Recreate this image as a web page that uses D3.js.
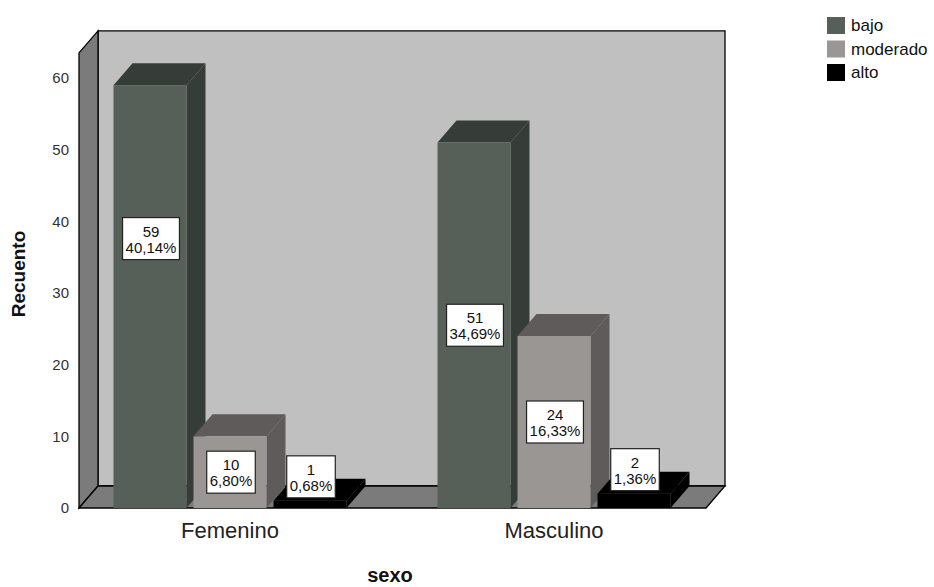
<!DOCTYPE html>
<html>
<head>
<meta charset="utf-8">
<script src="https://cdn.jsdelivr.net/npm/d3@7"></script>
<style>
  html, body { margin: 0; padding: 0; background: #fff; }
  svg { display: block; }
  text { font-family: "Liberation Sans", Arial, sans-serif; }
</style>
</head>
<body>
<svg id="chart" width="934" height="587"></svg>
<script>
// Counts per sex and risk level
const categories = ["Femenino", "Masculino"];
const levels = ["bajo", "moderado", "alto"];
const bajo = [59, 51];
const moderado = [10, 24];
const alto = [1, 2];
const yTicks = [0, 10, 20, 30, 40, 50, 60];
const levelColors = ["#566059", "#9a9694", "#000000"];
const levelSideColors = ["#363c38", "#5e5b5a", "#000000"];

const seriesValues = { bajo, moderado, alto };
const total = d3.sum(levels.flatMap(l => seriesValues[l]));

const svg = d3.select("#chart");

// 3D depth offset of the box
const DX = 19, DY = -22;

const y = d3.scaleLinear().domain([0, 60]).range([508, 78]);
const yTop = 63.5;
const xLeft = 79, xRight = 706;

const x = d3.scaleBand().domain(categories).range([68, 716]).paddingInner(0).paddingOuter(0);
const xInner = d3.scaleBand().domain(levels).range([0, 233]).paddingInner(0.0875).paddingOuter(0);

const poly = pts => "M" + pts.map(p => p.join(",")).join("L") + "Z";

// Back wall
svg.append("path")
  .attr("d", poly([[xLeft + DX, y(yTop) + DY], [xRight + DX, y(yTop) + DY], [xRight + DX, y(0) + DY], [xLeft + DX, y(0) + DY]]))
  .attr("fill", "#c0c0c0").attr("stroke", "#000").attr("stroke-width", 1.3);

// Left wall
svg.append("path")
  .attr("d", poly([[xLeft, y(yTop)], [xLeft + DX, y(yTop) + DY], [xLeft + DX, y(0) + DY], [xLeft, y(0)]]))
  .attr("fill", "#7b7b7b").attr("stroke", "#000").attr("stroke-width", 1.3);

// Floor
svg.append("path")
  .attr("d", poly([[xLeft, y(0)], [xLeft + DX, y(0) + DY], [xRight + DX, y(0) + DY], [xRight, y(0)]]))
  .attr("fill", "#7b7b7b").attr("stroke", "#000").attr("stroke-width", 1.3);

// Y axis tick labels
svg.append("g").selectAll("text").data(yTicks).join("text")
  .attr("x", 69).attr("y", d => y(d)).attr("dy", "0.36em")
  .attr("text-anchor", "end").attr("font-size", 15).attr("fill", "#333")
  .text(d => d);

// Bars
const bars = [];
categories.forEach((c, ci) => {
  levels.forEach((l, li) => {
    bars.push({ cat: c, level: l, li, value: seriesValues[l][ci] });
  });
});

const barG = svg.append("g");
bars.forEach(b => {
  const x0 = x(b.cat) + x.bandwidth() / 2 - 116.5 + xInner(b.level);
  const w = xInner.bandwidth();
  const yT = y(b.value), yB = y(0);
  const g = barG.append("g");
  // side face
  g.append("path")
    .attr("d", poly([[x0 + w, yT], [x0 + w + DX, yT + DY], [x0 + w + DX, yB + DY], [x0 + w, yB]]))
    .attr("fill", levelSideColors[b.li]);
  // top face
  g.append("path")
    .attr("d", poly([[x0, yT], [x0 + DX, yT + DY], [x0 + w + DX, yT + DY], [x0 + w, yT]]))
    .attr("fill", levelSideColors[b.li]);
  // front face
  g.append("rect")
    .attr("x", x0).attr("y", yT).attr("width", w).attr("height", yB - yT)
    .attr("fill", levelColors[b.li]);
  b.x0 = x0; b.w = w; b.yT = yT; b.yB = yB;
});

// Value labels: count and percentage of total
const fmtPct = v => d3.format(".2f")(v * 100).replace(".", ",") + "%";
const labelNudge = { "Femenino-bajo": -58 };
const labG = svg.append("g");
bars.forEach(b => {
  const boxH = 42;
  let cy = (b.yT + b.yB) / 2;
  if (b.yB - b.yT < boxH + 20) cy = b.yT - 24;
  cy += labelNudge[b.cat + "-" + b.level] || 0;
  const cx = b.x0 + b.w / 2 + 1;
  const g = labG.append("g");
  const t1 = g.append("text").attr("x", cx).attr("y", cy - 2).attr("text-anchor", "middle")
    .attr("font-size", 15).attr("fill", "#111").text(b.value);
  const t2 = g.append("text").attr("x", cx).attr("y", cy + 14).attr("text-anchor", "middle")
    .attr("font-size", 15).attr("fill", "#111").text(fmtPct(b.value / total));
  const wText = Math.max(t1.node().getComputedTextLength(), t2.node().getComputedTextLength());
  g.insert("rect", "text")
    .attr("x", cx - wText / 2 - 3).attr("y", cy - boxH / 2)
    .attr("width", wText + 6).attr("height", boxH)
    .attr("fill", "#fff").attr("stroke", "#222").attr("stroke-width", 1.2);
});

// Category labels
svg.append("g").selectAll("text").data(categories).join("text")
  .attr("x", d => x(d) + x.bandwidth() / 2).attr("y", 538)
  .attr("text-anchor", "middle").attr("font-size", 22).attr("fill", "#222")
  .text(d => d);

// Axis titles
svg.append("text").attr("x", 390).attr("y", 582).attr("text-anchor", "middle")
  .attr("font-size", 20).attr("font-weight", "bold").attr("fill", "#111").text("sexo");
svg.append("text").attr("transform", "translate(25,274) rotate(-90)")
  .attr("text-anchor", "middle").attr("font-size", 19).attr("font-weight", "bold").attr("fill", "#111").text("Recuento");

// Legend
const leg = svg.append("g").attr("transform", "translate(827,17)");
levels.forEach((l, i) => {
  leg.append("rect").attr("x", 0).attr("y", i * 23.5).attr("width", 18).attr("height", 17)
    .attr("fill", levelColors[i]);
  leg.append("text").attr("x", 24).attr("y", i * 23.5 + 14).attr("font-size", 17).attr("fill", "#111").text(l);
});
</script>
</body>
</html>
